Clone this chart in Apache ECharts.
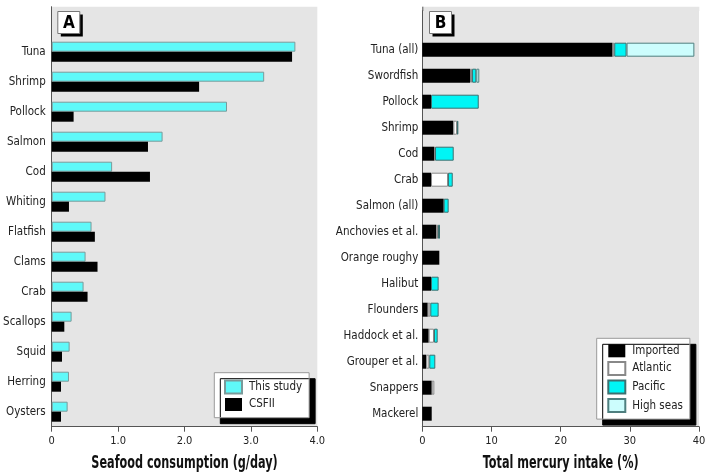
<!DOCTYPE html>
<html>
<head>
<meta charset="utf-8">
<script src="https://cdn.jsdelivr.net/npm/echarts@6/dist/echarts.min.js"></script>
<style>
html, body { margin: 0; padding: 0; background: #fff; }
#chart { width: 711px; height: 476px; }
</style>
</head>
<body>
<div id="chart"></div>
<script>
// panel A: seafood consumption (g/day)
var foodsA = ['Tuna', 'Shrimp', 'Pollock', 'Salmon', 'Cod', 'Whiting', 'Flatfish', 'Clams', 'Crab', 'Scallops', 'Squid', 'Herring', 'Oysters'];
var thisStudy = [3.67, 3.20, 2.64, 1.67, 0.91, 0.81, 0.60, 0.51, 0.48, 0.30, 0.27, 0.26, 0.24];
var csfii = [3.62, 2.22, 0.33, 1.45, 1.48, 0.26, 0.65, 0.69, 0.54, 0.19, 0.155, 0.14, 0.14];
var ticksA = { min: 0, max: 4, interval: 1 };

// panel B: share of total mercury intake (%)
var foodsB = ['Tuna (all)', 'Swordfish', 'Pollock', 'Shrimp', 'Cod', 'Crab', 'Salmon (all)', 'Anchovies et al.', 'Orange roughy', 'Halibut', 'Flounders', 'Haddock et al.', 'Grouper et al.', 'Snappers', 'Mackerel'];
var imported = [27.5, 6.9, 1.26, 4.49, 1.74, 1.26, 3.09, 2.02, 2.46, 1.26, 0.78, 0.92, 0.58, 1.36, 1.36];
var atlantic = [0.25, 0.29, 0, 0.53, 0.1, 2.46, 0, 0.25, 0, 0, 0.38, 0.77, 0.43, 0.38, 0];
var pacific = [1.78, 0.62, 6.9, 0.19, 2.7, 0.68, 0.72, 0.29, 0, 1.1, 1.2, 0.53, 0.87, 0, 0];
var highSeas = [9.8, 0.43, 0, 0, 0, 0, 0, 0, 0, 0, 0, 0, 0, 0, 0];
var ticksB = { min: 0, max: 40, interval: 10 };

var narrow = '"Liberation Sans Narrow", "DejaVu Sans Condensed", sans-serif';
var bg = '#e5e5e5';

// blank slot on top of each panel leaves room for the A / B tag
function pad(arr) {
    return ['-'].concat(arr.map(function (v) { return v === 0 ? '-' : v; }));
}

function catAxis(idx, names, margin) {
    return {
        type: 'category',
        gridIndex: idx,
        inverse: true,
        data: [''].concat(names),
        axisLine: { lineStyle: { color: '#555', width: 1 } },
        axisTick: { show: false },
        axisLabel: { color: '#222', fontFamily: narrow, fontSize: 11.5, margin: margin }
    };
}

function valAxis(idx, t, fmt) {
    return {
        type: 'value',
        gridIndex: idx,
        min: t.min,
        max: t.max,
        interval: t.interval,
        splitLine: { show: false },
        axisLine: { show: true, lineStyle: { color: '#555', width: 1 } },
        axisTick: { show: true, length: 5, inside: false, lineStyle: { color: '#555' } },
        axisLabel: { color: '#222', fontFamily: narrow, fontSize: 11, margin: 9, formatter: fmt }
    };
}

var legendBase = {
    orient: 'vertical',
    backgroundColor: '#fff',
    borderColor: '#999',
    borderWidth: 1,
    shadowColor: '#000',
    shadowBlur: 0,
    shadowOffsetX: 6,
    shadowOffsetY: 6,
    icon: 'rect',
    itemWidth: 17,
    itemHeight: 13,
    itemGap: 3.6,
    textStyle: { color: '#222', fontFamily: narrow, fontSize: 11.5, padding: [0, 0, 0, 2] }
};

function tag(x, y, label) {
    return {
        type: 'group',
        left: x,
        top: y,
        children: [
            { type: 'rect', shape: { x: 3, y: 3, width: 22, height: 22 }, style: { fill: '#000' } },
            { type: 'rect', shape: { x: 0, y: 0, width: 22, height: 22 }, style: { fill: '#fff', stroke: '#777', lineWidth: 1 } },
            { type: 'text', x: 11, y: 12, style: { text: label, fill: '#000', font: 'bold 17px ' + narrow, align: 'center', verticalAlign: 'middle' } }
        ]
    };
}

// condensed bold axis title, squeezed horizontally like the original typeface
function axisTitle(cx, cy, label) {
    return {
        type: 'text',
        x: cx, y: cy,
        scaleX: 0.735,
        style: { text: label, fill: '#111', font: 'bold 17px ' + narrow, align: 'center', verticalAlign: 'middle' }
    };
}

var myChart = echarts.init(document.getElementById('chart'));

var option = {
    animation: false,
    backgroundColor: '#fff',
    grid: [
        { left: 51.7, right: 393.7, top: 6.7, bottom: 49.3, show: true, backgroundColor: bg, borderWidth: 0, outerBoundsMode: 'none', containLabel: false },
        { left: 422.3, right: 12, top: 10.7, bottom: 49.3, show: true, backgroundColor: bg, borderWidth: 0, outerBoundsMode: 'none', containLabel: false }
    ],
    xAxis: [
        valAxis(0, ticksA, function (v) { return v === 0 ? '0' : v.toFixed(1); }),
        valAxis(1, ticksB, function (v) { return String(v); })
    ],
    yAxis: [catAxis(0, foodsA, 6), catAxis(1, foodsB, 4)],
    legend: [
        Object.assign({}, legendBase, {
            left: 214.3, top: 372.7, padding: [6.7, 7, 6.7, 9.7],
            data: ['This study', 'CSFII']
        }),
        Object.assign({}, legendBase, {
            left: 596.7, top: 338.3, padding: [6, 7, 6, 10.6],
            data: ['Imported', 'Atlantic', 'Pacific', 'High seas']
        })
    ],
    graphic: [
        // top strip of the grey plot area above panel B's first band
        { type: 'rect', shape: { x: 422.3, y: 6.7, width: 277, height: 4.2 }, style: { fill: bg } },
        { type: 'line', shape: { x1: 422.8, y1: 6.7, x2: 422.8, y2: 11 }, style: { stroke: '#555', lineWidth: 1 } },
        tag(57.3, 11, 'A'),
        tag(429, 11, 'B'),
        axisTitle(184.5, 463.5, 'Seafood consumption (g/day)'),
        axisTitle(560.7, 463.5, 'Total mercury intake (%)')
    ],
    series: [
        {
            name: 'This study', type: 'bar', xAxisIndex: 0, yAxisIndex: 0,
            barWidth: 10, barGap: '0%',
            itemStyle: { color: '#5ff9f9', borderColor: '#7a9a9a', borderWidth: 1 },
            data: pad(thisStudy)
        },
        {
            name: 'CSFII', type: 'bar', xAxisIndex: 0, yAxisIndex: 0,
            barWidth: 10, barGap: '0%',
            itemStyle: { color: '#000', borderColor: '#000', borderWidth: 0 },
            data: pad(csfii)
        },
        {
            name: 'Imported', type: 'bar', stack: 'hg', xAxisIndex: 1, yAxisIndex: 1, barWidth: 14,
            itemStyle: { color: '#000', borderColor: '#000', borderWidth: 0 },
            data: pad(imported)
        },
        {
            name: 'Atlantic', type: 'bar', stack: 'hg', xAxisIndex: 1, yAxisIndex: 1, barWidth: 14,
            itemStyle: { color: '#fff', borderColor: '#888', borderWidth: 1 },
            data: pad(atlantic)
        },
        {
            name: 'Pacific', type: 'bar', stack: 'hg', xAxisIndex: 1, yAxisIndex: 1, barWidth: 14,
            itemStyle: { color: '#00f5f5', borderColor: '#3c7070', borderWidth: 1 },
            data: pad(pacific)
        },
        {
            name: 'High seas', type: 'bar', stack: 'hg', xAxisIndex: 1, yAxisIndex: 1, barWidth: 14,
            itemStyle: { color: '#ccfdfd', borderColor: '#4f7f7f', borderWidth: 1 },
            data: pad(highSeas)
        }
    ]
};

myChart.setOption(option);
</script>
</body>
</html>
